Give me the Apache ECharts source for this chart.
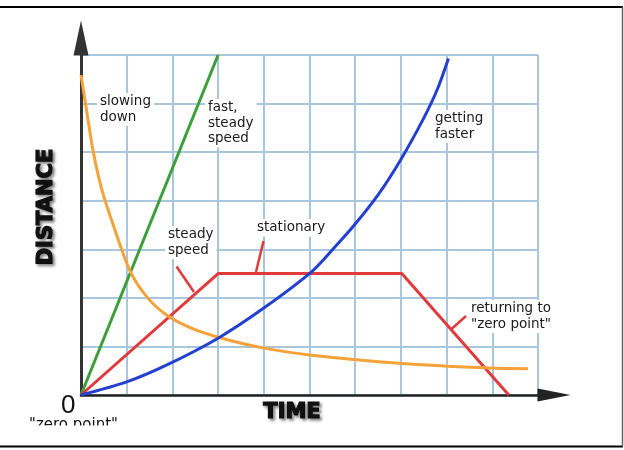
<!DOCTYPE html>
<html>
<head>
<meta charset="utf-8">
<script src="https://cdn.jsdelivr.net/npm/echarts@6/dist/echarts.min.js"></script>
<style>
html,body{margin:0;padding:0;background:#fff;}
#chart{width:624px;height:450px;}
</style>
</head>
<body>
<div id="chart"></div>
<script>
// Time axis 0..10 grid units, distance axis 0..7 grid units
const timeRange = [0, 10];
const distanceRange = [0, 7];

const fastSteady = [[0, 0], [3, 7]];
const slowingDown = [[0, 6.59], [0.12, 5.87], [0.27, 5.0], [0.45, 4.25], [0.67, 3.6], [1.07, 2.56], [1.44, 2.02], [1.88, 1.64], [2.4, 1.38], [3.0, 1.19], [3.98, 0.97], [5.05, 0.82], [7.02, 0.65], [8.84, 0.56], [9.78, 0.54]];
const steadyStationaryReturn = [[0, 0], [3, 2.5], [7.02, 2.5], [9.36, 0]];
const gettingFaster = [[0, 0], [1.0, 0.27], [1.88, 0.62], [3.0, 1.17], [4.0, 1.79], [5.05, 2.54], [5.53, 3.02], [6.0, 3.52], [6.5, 4.12], [7.0, 4.85], [7.5, 5.7], [7.8, 6.3], [8.04, 6.93]];

const labelTexts = {
  slowing: 'slowing\ndown',
  fast: 'fast,\nsteady\nspeed',
  faster: 'getting\nfaster',
  steady: 'steady\nspeed',
  stationary: 'stationary',
  returning: 'returning to\n"zero point"',
  zero: '0',
  zeroPoint: '"zero point"',
  yTitle: 'DISTANCE',
  xTitle: 'TIME'
};

const chart = echarts.init(document.getElementById('chart'));
const labelFont = '"DejaVu Sans", sans-serif';
function note(text, x, y, extra) {
  return Object.assign({
    type: 'text', x: x, y: y, z: 50,
    style: {
      text: text, fill: '#1a1a1a', font: '13.5px ' + labelFont, lineHeight: 15.5,
      backgroundColor: '#fff', padding: [1, 3], textVerticalAlign: 'top'
    }
  }, extra || {});
}
function tick(x1, y1, x2, y2) {
  return { type: 'line', z: 40, shape: { x1: x1, y1: y1, x2: x2, y2: y2 }, style: { stroke: '#e03a3a', lineWidth: 2.5 } };
}
const titleStyle = {
  fill: '#111', font: '900 21px "DejaVu Sans", sans-serif', stroke: '#111', lineWidth: 1.2,
  textAlign: 'center', textVerticalAlign: 'middle',
  textShadowColor: 'rgba(0,0,0,0.45)', textShadowBlur: 3, textShadowOffsetX: 2, textShadowOffsetY: 2
};

chart.setOption({
  animation: false,
  backgroundColor: '#fff',
  grid: { left: 81, right: 86, top: 55, bottom: 55 },
  xAxis: {
    type: 'value', min: timeRange[0], max: timeRange[1], interval: 1,
    axisLabel: { show: false }, axisTick: { show: false },
    axisLine: { show: true, lineStyle: { color: '#222', width: 2.5 }, symbol: ['none', 'triangle'], symbolSize: [13, 33], symbolOffset: [0, 16] },
    splitLine: { show: true, lineStyle: { color: '#a9c6dc', width: 2 } }
  },
  yAxis: {
    type: 'value', min: distanceRange[0], max: distanceRange[1], interval: 1,
    axisLabel: { show: false }, axisTick: { show: false },
    axisLine: { show: true, lineStyle: { color: '#333', width: 3 }, symbol: ['none', 'triangle'], symbolSize: [15, 35], symbolOffset: [0, 17] },
    splitLine: { show: true, lineStyle: { color: '#a9c6dc', width: 2 } }
  },
  series: [
    { type: 'line', data: fastSteady, showSymbol: false, lineStyle: { color: '#3c9f3a', width: 3 }, z: 3 },
    { type: 'line', data: steadyStationaryReturn, showSymbol: false, lineStyle: { color: '#e03a3a', width: 3 }, z: 4 },
    { type: 'line', data: slowingDown, smooth: 0.3, showSymbol: false, lineStyle: { color: '#f4a23a', width: 3 }, z: 5 },
    { type: 'line', data: gettingFaster, smooth: 0.3, showSymbol: false, lineStyle: { color: '#2440d0', width: 3 }, z: 6 }
  ],
  graphic: [
    note(labelTexts.slowing, 97, 93),
    note(labelTexts.fast, 205, 99),
    note(labelTexts.faster, 432, 110),
    note(labelTexts.steady, 165, 226),
    note(labelTexts.stationary, 254, 219),
    note(labelTexts.returning, 468, 300),
    tick(176.5, 266.5, 194, 292),
    tick(263.5, 241, 256, 272),
    tick(466, 316, 451.5, 329),
    { type: 'text', x: 61, y: 393, z: 50, style: { text: labelTexts.zero, fill: '#111', font: '26px "Liberation Sans", sans-serif', textVerticalAlign: 'top' } },
    { type: 'text', x: 29, y: 418, z: 50, style: { text: labelTexts.zeroPoint, fill: '#111', font: '15px ' + labelFont, textVerticalAlign: 'top' } },
    { type: 'rect', z: 60, shape: { x: 0, y: 425.5, width: 250, height: 19 }, style: { fill: '#fff' } },
    { type: 'text', x: 292, y: 412.5, z: 50, style: Object.assign({ text: labelTexts.xTitle }, titleStyle) },
    { type: 'text', x: 46.5, y: 207, z: 50, rotation: Math.PI / 2, style: Object.assign({ text: labelTexts.yTitle }, titleStyle) },
    { type: 'line', z: 70, shape: { x1: 0, y1: 7, x2: 623, y2: 7 }, style: { stroke: '#000', lineWidth: 2 } },
    { type: 'line', z: 70, shape: { x1: 0, y1: 446.5, x2: 623, y2: 446.5 }, style: { stroke: '#000', lineWidth: 2 } },
    { type: 'line', z: 70, shape: { x1: 622.5, y1: 7, x2: 622.5, y2: 446.5 }, style: { stroke: '#666', lineWidth: 1.5 } }
  ]
});
</script>
</body>
</html>
